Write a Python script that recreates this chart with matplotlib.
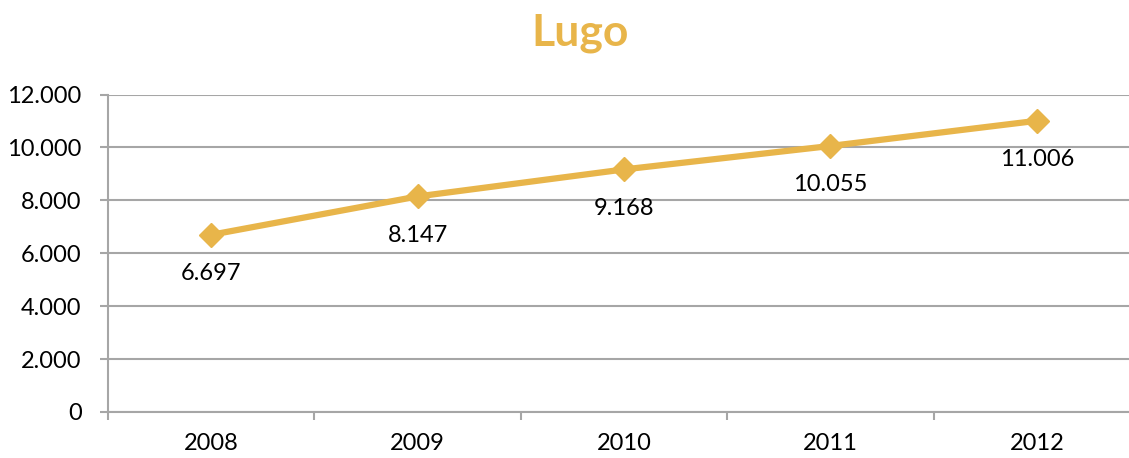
import numpy as np
import matplotlib.pyplot as plt
from matplotlib.ticker import FuncFormatter, FixedLocator

years = ['2008', '2009', '2010', '2011', '2012']
values = [6697, 8147, 9168, 10055, 11006]

gold = '#E8B54A'
grid = '#A6A6A6'

plt.rcParams['font.family'] = ['Lato', 'DejaVu Sans']

fig = plt.figure(figsize=(11.29, 4.58), dpi=100)
ax = fig.add_axes([108/1129, 1-412/458, 1032/1129, (412-94.5)/458])

x = np.arange(len(years))
ax.plot(x, values, color=gold, lw=4.5, marker='D', ms=12, mec=gold, mfc=gold,
        solid_capstyle='butt', zorder=3)

def dots(v, pos=None):
    return f'{int(v):,}'.replace(',', '.')

for xi, v in zip(x, values):
    ax.annotate(dots(v), (xi, v), xytext=(0, -28), textcoords='offset points',
                ha='center', va='center', fontsize=17, color='black')

ax.set_xlim(-0.5, len(years) - 0.5)
ax.set_ylim(0, 12000)
ax.set_yticks(np.arange(0, 12001, 2000))
ax.yaxis.set_major_formatter(FuncFormatter(dots))

# category boundaries get the tick marks, labels sit in the middle
ax.xaxis.set_major_locator(FixedLocator(np.arange(-0.5, len(years), 1.0)))
ax.xaxis.set_major_formatter(FuncFormatter(lambda v, p: ''))
ax.xaxis.set_minor_locator(FixedLocator(x))
ax.set_xticklabels(years, minor=True)
ax.tick_params(axis='x', which='major', length=6, width=1.5, color=grid, direction='out')
ax.tick_params(axis='x', which='minor', length=0, pad=15, labelsize=17)
ax.tick_params(axis='y', length=6, width=1.5, color=grid, pad=13, labelsize=17)

ax.grid(axis='y', color=grid, lw=1.5, zorder=0)
ax.set_axisbelow(True)
for s in ['top', 'right']:
    ax.spines[s].set_visible(False)
for s in ['left', 'bottom']:
    ax.spines[s].set_color(grid)
    ax.spines[s].set_linewidth(1.5)

fig.text(580/1129, 1-33/458, 'Lugo', ha='center', va='center',
         fontsize=32, fontweight='bold', color=gold)

fig.savefig('out.png', dpi=100)
